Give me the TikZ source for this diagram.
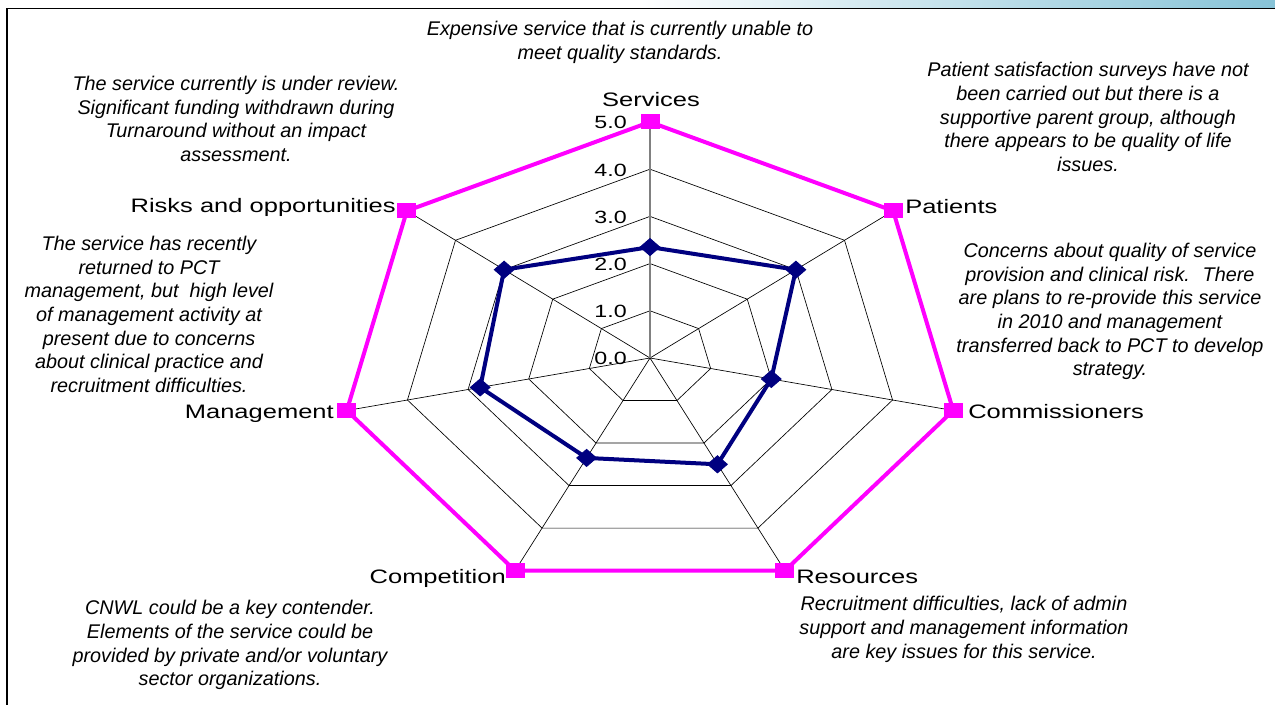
\documentclass[tikz,border=0pt]{standalone}
\usepackage{fontspec}
\setmainfont{Liberation Sans}
\newfontfamily\labfont[FakeStretch=1.31]{Liberation Sans}
\usetikzlibrary{shapes.geometric}
\definecolor{mag}{RGB}{255,0,255}
\definecolor{navyc}{RGB}{0,0,128}
\definecolor{topblue}{RGB}{135,195,215}
\begin{document}
\begin{tikzpicture}[x=0.75pt,y=0.75pt,
  lab/.style={font=\labfont\fontsize{14.6}{17}\selectfont, inner sep=0pt},
  tick/.style={font=\labfont\fontsize{13.3}{16}\selectfont, inner sep=0pt, anchor=base east},
  note/.style={font=\itshape\fontsize{14.85}{17.8}\selectfont, align=center, inner sep=0pt, anchor=base},
  grid/.style={black, line width=0.5pt},
  valaxis/.style={gray, line width=0.9pt},
  magline/.style={mag, line width=3pt, line join=miter},
  navline/.style={navyc, line width=3pt, line join=miter},
  sq/.style={rectangle, fill=mag, minimum width=14.25pt, minimum height=11.25pt, inner sep=0pt},
  dia/.style={diamond, fill=navyc, draw=navyc, line width=0.6pt, aspect=1.15, inner sep=3.5pt},
]
% canvas
\fill[white] (0,0) rectangle (1275,-705);
\useasboundingbox (0,0) rectangle (1275,-705);
\shade[left color=white, right color=topblue] (640,0) rectangle (1275,-8);
\draw[black, line width=0.9pt] (7,-705) -- (7,-8.3) -- (1275,-8.3);

% chart
\begin{scope}[shift={(650,-358)}, x=46.65pt, y=35.4pt]
  \foreach \r in {1,...,5}
    \draw[grid] (90:\r) \foreach \k in {1,...,6} { -- ({90-\k*360/7}:\r) } -- cycle;
  \foreach \k in {1,...,6}
    \draw[grid] (0,0) -- ({90-\k*360/7}:5);
  \draw[valaxis] (0,0) -- (90:5);
  % target series (5.0 on every axis)
  \foreach \k in {0,...,6}
    \coordinate (p\k) at ({90-\k*360/7}:5);
  % actual series
  \coordinate (q0) at ({90}:2.35);
  \coordinate (q1) at ({90-1*360/7}:3.0);
  \coordinate (q2) at ({90-2*360/7}:2.0);
  \coordinate (q3) at ({90-3*360/7}:2.5);
  \coordinate (q4) at ({90-4*360/7}:2.35);
  \coordinate (q5) at ({90-5*360/7}:2.8);
  \coordinate (q6) at ({90-6*360/7}:3.0);
  \draw[magline] (p0) -- (p1) -- (p2) -- (p3) -- (p4) -- (p5) -- (p6) -- cycle;
  \draw[navline] (q0) -- (q1) -- (q2) -- (q3) -- (q4) -- (q5) -- (q6) -- cycle;
  \foreach \k in {0,...,6} {
    \node[sq] (m\k) at (p\k) {};
    \node[dia] (d\k) at (q\k) {};
  }
\end{scope}

% value ticks
\foreach \k in {0,...,5}
  \node[tick] (t\k) at (627,{-(365-47.2*\k)}) {\k.0};

% axis labels
\node[lab, anchor=base] (lServices) at (651,-107) {Services};
\node[lab, anchor=base west] (lPatients) at (905,-213.5) {Patients};
\node[lab, anchor=base west] (lComm) at (968,-418.5) {Commissioners};
\node[lab, anchor=base west] (lRes) at (796,-584) {Resources};
\node[lab, anchor=base east] (lComp) at (506,-584) {Competition};
\node[lab, anchor=base east] (lMan) at (334,-419) {Management};
\node[lab, anchor=base east] (lRisk) at (396,-213) {Risks and opportunities};

% notes (anchor = baseline of last line)
\node[note] (nServ) at (620,-59.3) {Expensive service that is currently unable to\\meet quality standards.};
\node[note] (nRisk) at (236,-161.7) {The service currently is under review.\\Significant funding withdrawn during\\Turnaround without an impact\\assessment.};
\node[note] (nMan) at (149,-392.7) {The service has recently\\returned to PCT\\management, but~ high level\\of management activity at\\present due to concerns\\about clinical practice and\\recruitment difficulties.};
\node[note] (nPat) at (1088,-171.7) {Patient satisfaction surveys have not\\been carried out but there is a\\supportive parent group, although\\there appears to be quality of life\\issues.};
\node[note] (nComm) at (1110,-376) {Concerns about quality of service\\provision and clinical risk.~ There\\are plans to re-provide this service\\in 2010 and management\\transferred back to PCT to develop\\strategy.};
\node[note] (nComp) at (230,-686) {CNWL could be a key contender.\\Elements of the service could be\\provided by private and/or voluntary\\sector organizations.};
\node[note] (nRes) at (964,-658.3) {Recruitment difficulties, lack of admin\\support and management information\\are key issues for this service.};
\end{tikzpicture}
\end{document}
